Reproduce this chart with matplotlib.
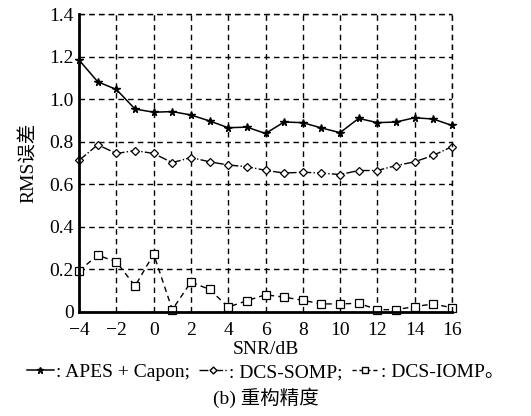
import numpy as np
import matplotlib.pyplot as plt
from matplotlib.lines import Line2D

plt.rcParams['font.family'] = ['Liberation Serif', 'Noto Sans CJK SC']
plt.rcParams['mathtext.fontset'] = 'stix'

snr = list(range(-4, 17))
apes_capon = [1.184, 1.082, 1.046, 0.954, 0.939, 0.942, 0.926, 0.898, 0.866, 0.869, 0.839,
              0.893, 0.890, 0.865, 0.843, 0.910, 0.890, 0.893, 0.913, 0.907, 0.877]
dcs_somp = [0.713, 0.786, 0.745, 0.759, 0.745, 0.702, 0.726, 0.706, 0.691, 0.683, 0.666,
            0.653, 0.657, 0.653, 0.646, 0.665, 0.665, 0.688, 0.706, 0.736, 0.777]
dcs_iomp = [0.194, 0.267, 0.236, 0.122, 0.272, 0.011, 0.141, 0.106, 0.023, 0.053, 0.081,
            0.070, 0.055, 0.038, 0.038, 0.041, 0.011, 0.011, 0.025, 0.038, 0.020]
xticks = [-4, -2, 0, 2, 4, 6, 8, 10, 12, 14, 16]
yticks = [0, 0.2, 0.4, 0.6, 0.8, 1.0, 1.2, 1.4]
ytick_labels = ['0', '0.2', '0.4', '0.6', '0.8', '1.0', '1.2', '1.4']

fig = plt.figure(figsize=(5.31, 4.16), dpi=100)
ax = fig.add_axes([0.149, 0.25, 0.702, 0.716])

l1, = ax.plot(snr, apes_capon, color='black', lw=1.1, marker='*', ms=5.5, mfc='black')
l2, = ax.plot(snr, dcs_somp, color='black', lw=1.0, ls='-.', marker='D', ms=4, mfc='white', mew=0.9)
l3, = ax.plot(snr, dcs_iomp, color='black', lw=1.0, ls=(0, (4, 3)), marker='s', ms=5.5, mfc='white', mew=0.9)
for l in (l1, l2, l3):
    l.set_clip_on(False)

ax.set_xlim(-4, 16)
ax.set_ylim(0, 1.4)
ax.set_xticks(xticks)
ax.set_yticks(yticks)
ax.set_yticklabels(ytick_labels)
ax.tick_params(labelsize=14, length=0)
ax.tick_params(axis='x', pad=7)
ax.tick_params(axis='y', pad=4)
ax.grid(True, color='black', ls=(0, (4, 3)), lw=1.0)
ax.spines['top'].set_visible(False)
ax.spines['right'].set_visible(False)
ax.spines['left'].set_linewidth(2)
ax.spines['bottom'].set_linewidth(2)
# grid lines on the top and right edge
ax.axhline(1.4, color='black', ls=(0, (4, 3)), lw=1.0, clip_on=False)
ax.axvline(16, color='black', ls=(0, (4, 3)), lw=1.0, clip_on=False)

ax.set_ylabel('RMS误差', fontsize=14, labelpad=8)
ax.set_xlabel('SNR/dB', fontsize=14, labelpad=2)

h1 = Line2D([], [], color='black', lw=1.1, marker='*', ms=4.5)
h2 = Line2D([], [], color='black', lw=1.0, ls='-.', marker='D', ms=3.5, mfc='white')
h3 = Line2D([], [], color='black', lw=1.0, ls=(0, (3, 2)), marker='s', ms=4.5, mfc='white')
fig.legend([h1, h2, h3], [': APES + Capon;', ': DCS-SOMP;', ': DCS-IOMP。'],
           loc='center', bbox_to_anchor=(0.5, 0.105), ncol=3, frameon=False,
           fontsize=14, handlelength=1.4, handletextpad=0.1, columnspacing=0.5)
fig.text(0.5, 0.043, '(b) 重构精度', ha='center', va='center', fontsize=14)

fig.savefig('out.png', dpi=100)
